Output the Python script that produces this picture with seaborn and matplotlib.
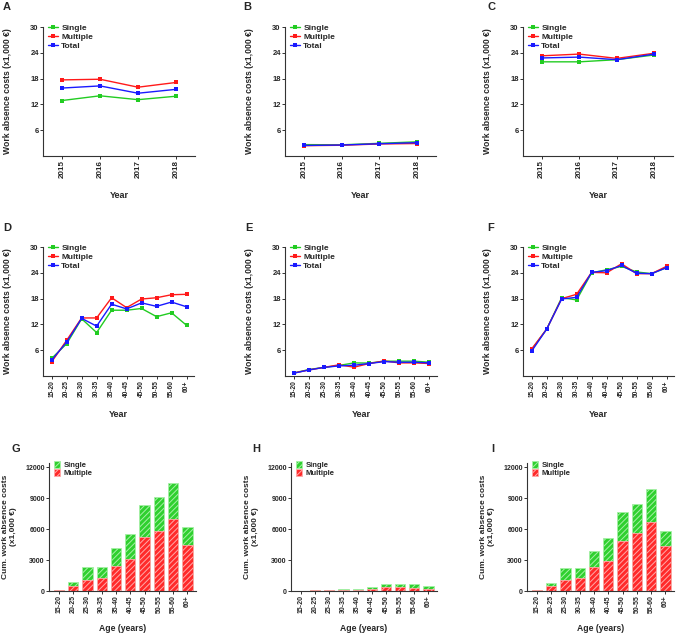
import numpy as np
import pandas as pd
import seaborn as sns
import matplotlib.pyplot as plt
from matplotlib.patches import Patch
from matplotlib.lines import Line2D

# data
years = ["2015", "2016", "2017", "2018"]
ages = ["15-20", "20-25", "25-30", "30-35", "35-40", "40-45", "45-50", "50-55", "55-60", "60+"]

a_single = [12.9, 14.0, 13.1, 13.9]
a_multiple = [17.7, 17.85, 16.0, 17.1]
a_total = [15.8, 16.3, 14.6, 15.5]

b_single = [2.65, 2.6, 2.95, 3.3]
b_multiple = [2.4, 2.5, 2.8, 2.9]
b_total = [2.45, 2.55, 2.85, 3.1]

c_single = [21.9, 21.9, 22.4, 23.5]
c_multiple = [23.3, 23.7, 22.7, 23.9]
c_total = [22.8, 23.0, 22.4, 23.7]

d_single = [4.1, 7.5, 13.3, 10.1, 15.3, 15.3, 15.7, 13.8, 14.7, 11.8]
d_multiple = [3.3, 8.3, 13.5, 13.5, 18.2, 15.9, 17.9, 18.2, 18.9, 19.0]
d_total = [3.7, 7.9, 13.4, 11.6, 16.7, 15.6, 17.0, 16.2, 17.2, 16.1]

e_single = [0.7, 1.5, 2.0, 2.45, 3.05, 3.0, 3.45, 3.45, 3.45, 3.2]
e_multiple = [0.7, 1.4, 2.0, 2.6, 2.05, 2.9, 3.5, 3.05, 3.05, 2.9]
e_total = [0.65, 1.4, 2.0, 2.35, 2.5, 2.9, 3.35, 3.2, 3.2, 3.05]

f_single = [6.15, 10.9, 18.2, 17.7, 24.0, 24.7, 25.5, 24.2, 23.8, 25.2]
f_multiple = [6.3, 10.9, 18.0, 19.0, 24.1, 24.0, 26.1, 23.8, 23.8, 25.5]
f_total = [5.8, 10.9, 17.9, 18.3, 24.1, 24.5, 25.7, 23.9, 23.8, 25.2]

# cumulative costs: stacked bars (multiple bottom, single on top)
g_multiple = [60, 490, 1100, 1265, 2465, 3145, 5190, 5840, 6975, 4475]
g_single = [40, 350, 1235, 1105, 1655, 2400, 3145, 3275, 3535, 1755]

h_multiple = [10, 50, 60, 100, 110, 200, 390, 360, 330, 230]
h_single = [10, 50, 70, 125, 120, 220, 290, 320, 320, 260]

i_multiple = [60, 455, 1070, 1230, 2335, 2920, 4830, 5610, 6715, 4315]
i_single = [40, 355, 1200, 975, 1555, 2205, 2860, 2825, 3180, 1490]

groups = ["Single", "Multiple", "Total"]
pal = {"Single": "#22cc22", "Multiple": "#ff1a1a", "Total": "#1a1aff"}

sns.set_style("ticks")
plt.rcParams["font.family"] = ["Liberation Sans", "DejaVu Sans"]
plt.rcParams["font.weight"] = "bold"
plt.rcParams["hatch.linewidth"] = 0.7

W, H = 676, 634
fig = plt.figure(figsize=(W / 100, H / 100), dpi=100)


def box(left, top, width, bottom):
    return [left / W, 1 - bottom / H, width / W, (bottom - top) / H]


def style(ax, xsize, ysize):
    for s in ["top", "right"]:
        ax.spines[s].set_visible(False)
    for s in ["left", "bottom"]:
        ax.spines[s].set_color("#333333")
        ax.spines[s].set_linewidth(0.8)
    ax.tick_params(axis="both", length=2, width=0.7, pad=1, color="#333333")
    ax.tick_params(axis="x", labelsize=xsize)
    ax.tick_params(axis="y", labelsize=ysize)
    for lab in ax.get_xticklabels() + ax.get_yticklabels():
        lab.set_fontweight("bold")
    plt.setp(ax.get_xticklabels(), rotation=90)


def line_panel(rect, cats, single, multiple, total, letter, lpos):
    ax = fig.add_axes(rect)
    df = pd.DataFrame({
        "x": cats * 3,
        "value": single + multiple + total,
        "group": ["Single"] * len(cats) + ["Multiple"] * len(cats) + ["Total"] * len(cats),
    })
    sns.lineplot(data=df, x="x", y="value", hue="group", hue_order=groups, palette=pal,
                 marker="s", markersize=3, markeredgewidth=0, linewidth=1.0, sort=False,
                 legend=False, ax=ax)
    ax.set_ylim(0, 30)
    ax.set_yticks([6, 12, 18, 24, 30])
    n = len(cats)
    ax.set_xlim(-0.5 if n == 4 else -0.58, n - 0.5)
    ax.set_xlabel("Year", fontsize=6.5, fontweight="bold", labelpad=9)
    ax.set_ylabel("Work absence costs (x1,000 \u20ac)", fontsize=6.2, fontweight="bold", labelpad=13)
    style(ax, 5.8 if n == 4 else 4.8, 5.5)
    handles = [Line2D([], [], color=pal[g], marker="s", markersize=3, markeredgewidth=0, lw=1.0) for g in groups]
    ax.legend(handles, groups, loc="upper left", bbox_to_anchor=(0.0, 1.06), frameon=False,
              handlelength=1.2, handletextpad=0.4, labelspacing=0.15, borderaxespad=0.2,
              prop={"size": 6, "weight": "bold"})
    fig.text(lpos[0] / W, 1 - lpos[1] / H, letter, fontsize=8, fontweight="bold", ha="left", va="center")
    return ax


def bar_panel(rect, multiple, single, letter, lpos):
    ax = fig.add_axes(rect)
    total = [m + s for m, s in zip(multiple, single)]
    sns.barplot(x=ages, y=total, color="#2fd02f", saturation=1, width=0.72, hatch="//////",
                edgecolor="#a6f0a6", linewidth=0.6, ax=ax)
    sns.barplot(x=ages, y=multiple, color="#ff2a2a", saturation=1, width=0.72, hatch="//////",
                edgecolor="#ffaaaa", linewidth=0.6, ax=ax)
    ax.set_ylim(0, 12400)
    ax.set_yticks([0, 3000, 6000, 9000, 12000])
    ax.set_xlim(-0.7, 9.6)
    ax.set_xlabel("Age (years)", fontsize=6.2, fontweight="bold", labelpad=8)
    ax.set_ylabel("Cum. work absence costs\n(x1,000 \u20ac)", fontsize=6.0, fontweight="bold", labelpad=6)
    style(ax, 5.0, 5.0)
    handles = [Patch(facecolor="#2fd02f", edgecolor="#a6f0a6", hatch="//////", lw=0.6),
               Patch(facecolor="#ff2a2a", edgecolor="#ffaaaa", hatch="//////", lw=0.6)]
    ax.legend(handles, ["Single", "Multiple"], loc="upper left", bbox_to_anchor=(0.0, 1.05), frameon=False,
              handlelength=0.9, handleheight=0.9, handletextpad=0.4, labelspacing=0.05, borderaxespad=0.2,
              prop={"size": 5.5, "weight": "bold"})
    fig.text(lpos[0] / W, 1 - lpos[1] / H, letter, fontsize=8, fontweight="bold", ha="left", va="center")
    return ax


line_panel(box(43, 27, 152, 156), years, a_single, a_multiple, a_total, "A", (3, 7))
line_panel(box(285, 27, 151, 156), years, b_single, b_multiple, b_total, "B", (243, 7))
line_panel(box(523, 27, 150, 156), years, c_single, c_multiple, c_total, "C", (487, 7))
line_panel(box(43, 247, 151, 376), ages, d_single, d_multiple, d_total, "D", (3, 228))
line_panel(box(285, 247, 152, 376), ages, e_single, e_multiple, e_total, "E", (245, 228))
line_panel(box(523, 247, 151, 376), ages, f_single, f_multiple, f_total, "F", (487, 228))
bar_panel(box(49, 463, 147, 591), g_multiple, g_single, "G", (12, 449))
bar_panel(box(291, 463, 146, 591), h_multiple, h_single, "H", (252, 449))
bar_panel(box(527, 463, 147, 591), i_multiple, i_single, "I", (491, 449))

fig.savefig("out.png", dpi=100)
